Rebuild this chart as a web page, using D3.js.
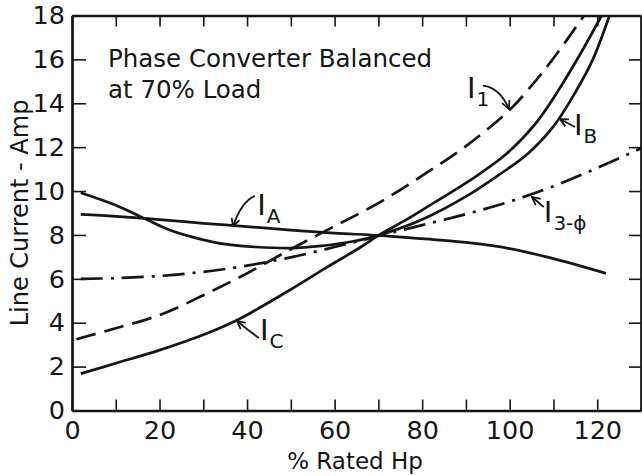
<!DOCTYPE html>
<html>
<head>
<meta charset="utf-8">
<script src="https://cdn.jsdelivr.net/npm/d3@7"></script>
<style>
body { margin: 0; background: #fff; }
text { font-family: "DejaVu Sans", sans-serif; fill: #151515; }
</style>
</head>
<body>
<div id="chart"></div>
<script>
// values
var hpA = [2, 10, 20, 30, 40, 50, 60, 70, 80, 90, 100, 110, 122];
var ampA = [8.94, 8.85, 8.7, 8.53, 8.38, 8.22, 8.08, 7.98, 7.83, 7.66, 7.38, 6.92, 6.25];

var hpB = [2, 10, 16, 22, 28, 35, 42, 50, 57, 64, 70, 80, 91, 98, 104, 110, 115, 119, 122.8];
var ampB = [9.92, 9.35, 8.8, 8.25, 7.88, 7.58, 7.45, 7.4, 7.5, 7.7, 7.98, 8.7, 9.87, 10.8, 11.68, 12.95, 14.5, 16.0, 18];

var hpC = [2, 10, 20, 30, 38, 49, 58, 66, 70, 76, 82, 91, 99, 106, 111, 116, 121];
var ampC = [1.68, 2.15, 2.75, 3.45, 4.15, 5.4, 6.5, 7.45, 7.98, 8.65, 9.38, 10.5, 11.65, 13.1, 14.55, 16.2, 18];

var hp1 = [1, 10, 20, 30, 40, 50, 60, 70, 80, 90, 100, 105, 110, 117];
var amp1 = [3.25, 3.75, 4.35, 5.25, 6.25, 7.35, 8.4, 9.45, 10.7, 12.05, 13.7, 14.8, 16.05, 18];

var hp3 = [2, 10, 20, 30, 40, 50, 60, 70, 80, 90, 100, 110, 120, 130];
var amp3 = [6.0, 6.03, 6.13, 6.32, 6.6, 6.98, 7.45, 7.95, 8.45, 8.95, 9.52, 10.22, 11.05, 11.95];

var xTicks = [0, 10, 20, 30, 40, 50, 60, 70, 80, 90, 100, 110, 120];
var yTicks = [0, 2, 4, 6, 8, 10, 12, 14, 16, 18];

// label: [subscript, hp, amp], arrow: [from, bend, to] in data units
var labels = [["A", 42.3, 8.91], ["C", 42.95, 3.21], ["1", 90.25, 14.24], ["B", 114.7, 12.55], ["3-\u03D5", 107.8, 8.59]];
var arrows = [
  [[41.8, 9.78], [38.6, 9.5], [36.8, 8.38]],
  [[42.7, 3.3], [40.3, 3.65], [37.7, 4.08]],
  [[93.9, 14.8], [97.8, 14.7], [99.8, 13.74]],
  [[114.9, 12.92], [113.2, 13.1], [111.5, 13.28]],
  [[107.8, 9.27], [106.5, 9.5], [105.1, 9.73]]
];

var width = 642, height = 476;

var x = d3.scaleLinear().domain([0, 130]).range([72, 641]);
var y = d3.scaleLinear().domain([0, 18]).range([410.5, 15.5]);

var svg = d3.select("#chart")
            .append("svg")
            .attr("width", width)
            .attr("height", height);

svg.append("defs").append("marker")
   .attr("id", "head")
   .attr("viewBox", "0 0 10 10")
   .attr("refX", 9).attr("refY", 5)
   .attr("markerWidth", 10).attr("markerHeight", 10)
   .attr("markerUnits", "userSpaceOnUse")
   .attr("orient", "auto")
   .append("path")
   .attr("d", "M1,1 L9,5 L1,9")
   .attr("fill", "none")
   .attr("stroke", "#151515")
   .attr("stroke-width", 1.8);

// frame and ticks
svg.append("g")
   .attr("transform", "translate(0," + y(0) + ")")
   .call(d3.axisBottom(x).tickValues(xTicks).tickSize(-11).tickSizeOuter(0).tickPadding(10)
         .tickFormat(function(d){ return d % 20 ? "" : d; }));
svg.append("g")
   .attr("transform", "translate(" + x(0) + ",0)")
   .call(d3.axisLeft(y).tickValues(yTicks).tickSize(-14).tickSizeOuter(0).tickPadding(7));
svg.append("g")
   .attr("transform", "translate(0," + y(18) + ")")
   .call(d3.axisTop(x).tickValues(xTicks).tickSize(-11).tickSizeOuter(0).tickFormat(""));
svg.append("g")
   .attr("transform", "translate(" + x(130) + ",0)")
   .call(d3.axisRight(y).tickValues(yTicks).tickSize(-12).tickSizeOuter(0).tickFormat(""));

svg.selectAll(".domain").attr("stroke", "#151515").attr("stroke-width", 2.7);
svg.selectAll(".tick line").attr("stroke", "#151515").attr("stroke-width", 1.6);
svg.selectAll(".tick text")
   .attr("font-family", "DejaVu Sans")
   .attr("font-size", 25.5)
   .attr("fill", "#151515");

// curves
var line = d3.line()
             .x(function(d){ return x(d[0]); })
             .y(function(d){ return y(d[1]); })
             .curve(d3.curveCatmullRom.alpha(0.5));

var series = [
  { hp: hpA, amp: ampA, dash: null },
  { hp: hpB, amp: ampB, dash: null },
  { hp: hpC, amp: ampC, dash: null },
  { hp: hp1, amp: amp1, dash: "20,9" },
  { hp: hp3, amp: amp3, dash: "22,8,3,8" }
];

svg.append("g").selectAll("path")
   .data(series)
   .enter()
   .append("path")
   .attr("d", function(s){ return line(d3.zip(s.hp, s.amp)); })
   .attr("fill", "none")
   .attr("stroke", "#151515")
   .attr("stroke-width", 2.7)
   .attr("stroke-dasharray", function(s){ return s.dash; });

// labels and arrows
var lab = svg.append("g").selectAll("text")
   .data(labels)
   .enter()
   .append("text")
   .attr("x", function(d){ return x(d[1]); })
   .attr("y", function(d){ return y(d[2]); })
   .attr("font-size", 29);
lab.append("tspan").text("I");
lab.append("tspan")
   .attr("dx", 1).attr("dy", 8)
   .attr("font-size", 20)
   .text(function(d){ return d[0]; });

svg.append("g").selectAll("path")
   .data(arrows)
   .enter()
   .append("path")
   .attr("d", function(a){
     return "M" + x(a[0][0]) + "," + y(a[0][1]) +
            "Q" + x(a[1][0]) + "," + y(a[1][1]) + " " + x(a[2][0]) + "," + y(a[2][1]);
   })
   .attr("fill", "none")
   .attr("stroke", "#151515")
   .attr("stroke-width", 1.8)
   .attr("marker-end", "url(#head)");

// titles
svg.append("text").attr("x", 108).attr("y", 66.5).attr("font-size", 24.5).text("Phase Converter Balanced");
svg.append("text").attr("x", 108).attr("y", 98).attr("font-size", 24.5).text("at 70% Load");

svg.append("text")
   .attr("transform", "translate(28," + y(9) + ") rotate(-90)")
   .attr("text-anchor", "middle")
   .attr("font-size", 24)
   .text("Line Current - Amp");

svg.append("text")
   .attr("x", 355).attr("y", 469)
   .attr("text-anchor", "middle")
   .attr("font-size", 23)
   .text("% Rated Hp");
</script>
</body>
</html>
